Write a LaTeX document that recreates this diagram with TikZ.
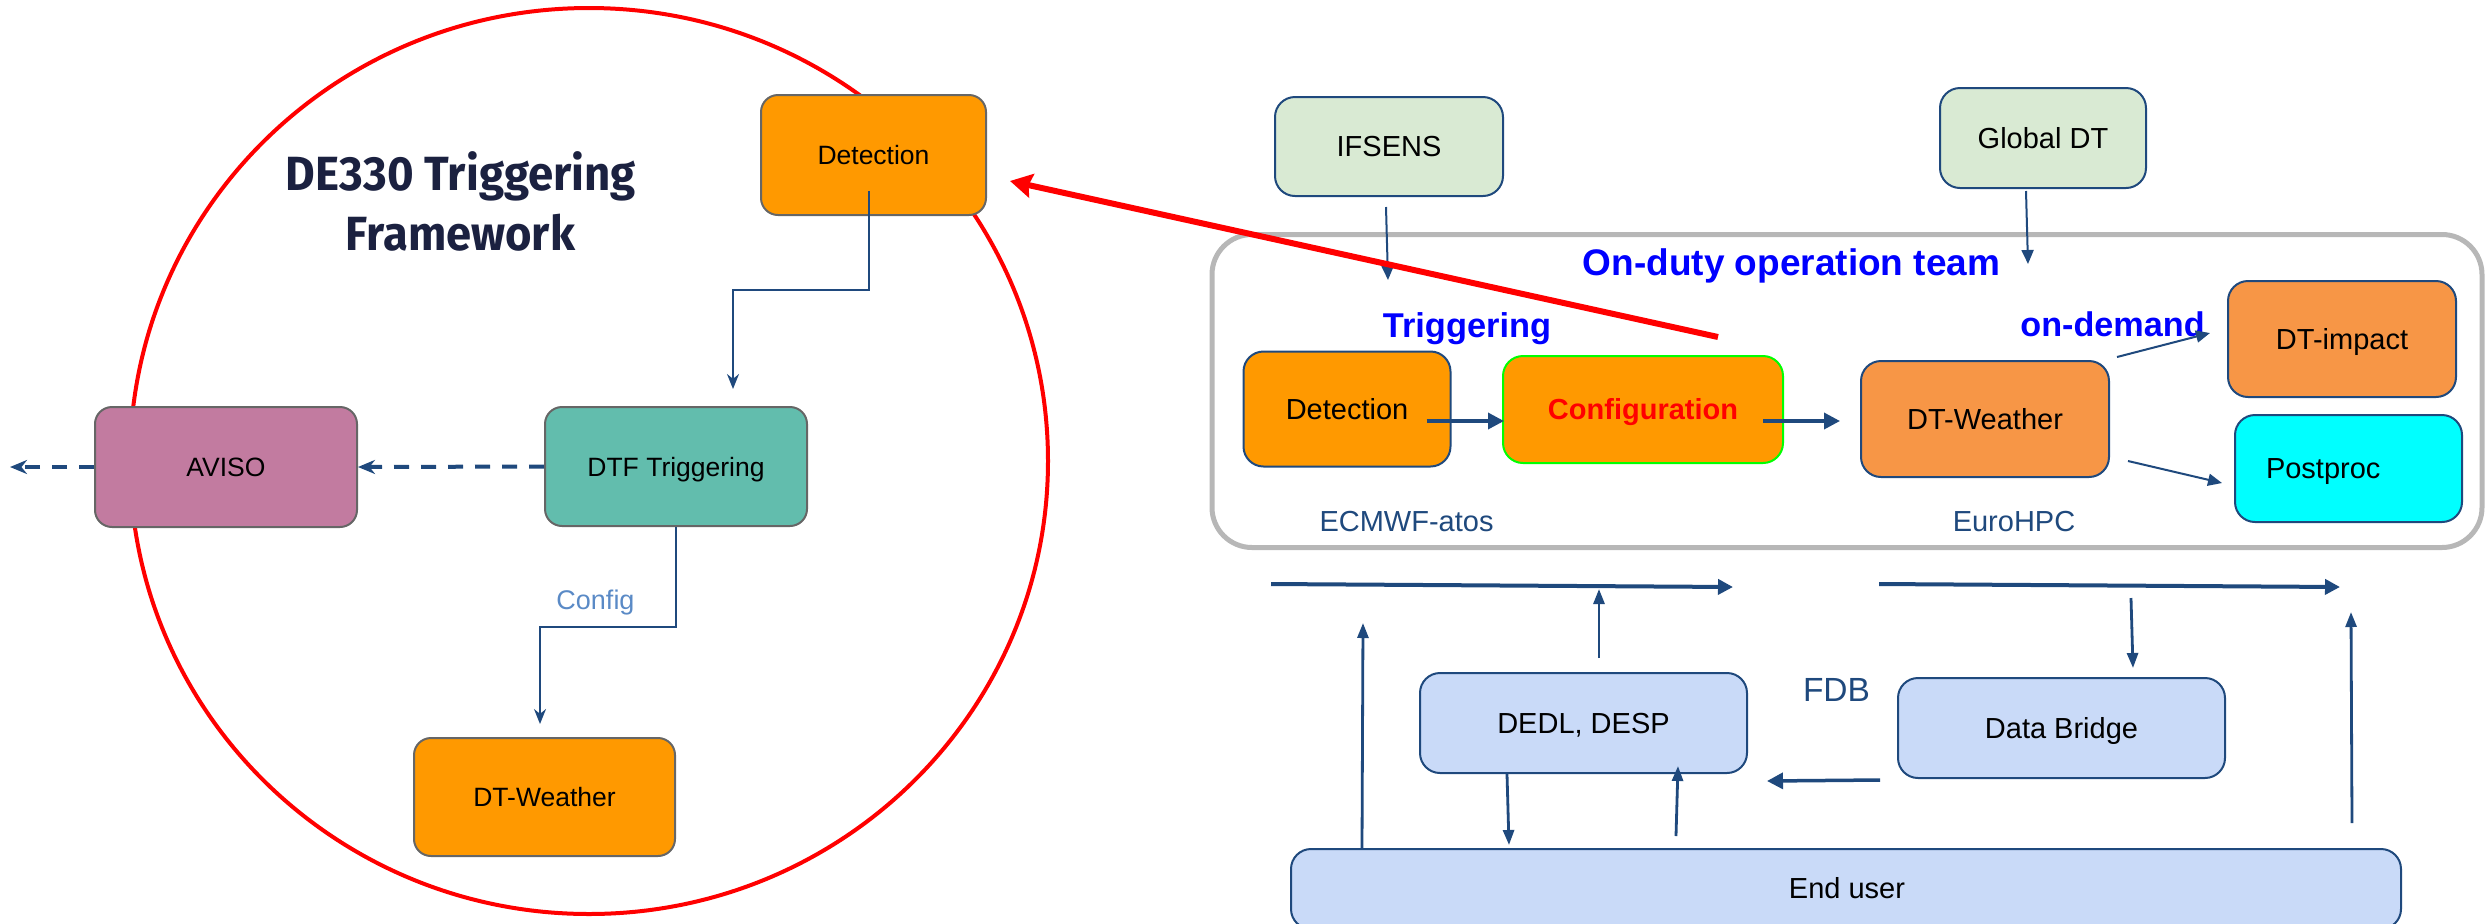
\documentclass[tikz,border=0pt]{standalone}
\usepackage{fontspec}
\setmainfont{Liberation Sans}
\newfontfamily\titlefont{Fira Sans}
\usetikzlibrary{arrows.meta,calc}
\definecolor{orangeA}{HTML}{FF9900}
\definecolor{orangeB}{HTML}{F79646}
\definecolor{avisoc}{HTML}{C27BA0}
\definecolor{dtfc}{HTML}{62BDAD}
\definecolor{greenL}{HTML}{D9EAD3}
\definecolor{blueL}{HTML}{C9DAF8}
\definecolor{cyanC}{HTML}{00FFFF}
\definecolor{navy}{HTML}{1F497D}
\definecolor{lgray}{HTML}{666666}
\definecolor{contc}{HTML}{B7B7B7}
\definecolor{titlec}{HTML}{1B2140}
\definecolor{configc}{HTML}{5A8AC6}
\definecolor{bluetxt}{HTML}{0000FF}
\definecolor{greenB}{HTML}{00FF00}
\def\pu{0.5pt}
\tikzset{
  lbox/.style={draw=lgray, line width=1pt, rounded corners=8.5pt, inner sep=0pt, align=center,
    text height=9.5pt, text depth=0pt, font=\fontsize{13.25}{15}\selectfont},
  rbox/.style={draw=navy, line width=1pt, rounded corners=10pt, inner sep=0pt, align=center,
    text height=10.4pt, text depth=0pt, font=\fontsize{14.5}{17}\selectfont},
  thinarr/.style={draw=navy, line width=1pt, -{Stealth[length=7.5pt,width=6pt]}},
  dasharr/.style={draw=navy, line width=2pt, dash pattern=on 7.5pt off 6pt, -{Stealth[length=8.5pt,width=7pt]}},
  thickarr/.style={draw=navy, line width=1.75pt, -{Triangle[length=8pt,width=8pt]}},
  slimarr/.style={draw=navy, line width=1pt, -{Triangle[length=7pt,width=6pt]}},
  vertarr/.style={draw=navy, line width=1.4pt, -{Triangle[length=7.5pt,width=5.5pt]}},
  redarr/.style={draw=red, line width=3pt, -{Stealth[length=11pt,width=12pt,inset=1.5pt]}},
  lbl/.style={inner sep=0pt, anchor=base},
}
\begin{document}
\begin{tikzpicture}[x=0.5pt,y=-0.5pt]
\useasboundingbox (0,0) rectangle (2486,923);

% ---------- left part ----------
\draw[red, line width=2pt] (589,461) ellipse [x radius=459, y radius=453];

\node[lbl, font=\titlefont\bfseries\fontsize{24}{28}\selectfont, text=titlec] (title1) at (461,190)
  {\resizebox{175pt}{\height}{DE330 Triggering}};
\node[lbl, font=\titlefont\bfseries\fontsize{24}{28}\selectfont, text=titlec] (title2) at (460.5,250)
  {\resizebox{114.5pt}{\height}{Framework}};

\node[lbox, fill=orangeA, minimum width=225*\pu, minimum height=120*\pu] (detL) at (873.5,155) {Detection};
\node[lbox, fill=avisoc, minimum width=262*\pu, minimum height=120*\pu] (aviso) at (226,467) {AVISO};
\node[lbox, fill=dtfc, minimum width=262*\pu, minimum height=119*\pu] (dtf) at (676,466.5) {DTF Triggering};
\node[lbox, fill=orangeA, minimum width=261*\pu, minimum height=118*\pu] (dtwL) at (544.5,797) {DT-Weather};

\draw[thinarr] ($(detL.center)+(-4.5,36)$) -- ++(0,99) -| ($(dtf.north)+(57,-17)$);
\draw[thinarr] (dtf.south) -- ++(0,100) -| ($(dtwL.north)+(-4.5,-13)$);
\node[lbl, text=configc, font=\fontsize{13.5}{16}\selectfont] (cfglbl) at (595.5,609) {Config};

\coordinate (avisoOut) at (10,467);
\draw[dasharr] (dtf.west) -- (aviso.east);
\draw[dasharr] (aviso.west) -- (avisoOut);

% ---------- right part ----------
\node[draw=contc, line width=2.5pt, rounded corners=20pt, minimum width=1270*\pu, minimum height=313*\pu, inner sep=0pt]
  (team) at (1847,391) {};

\node[rbox, fill=greenL, minimum width=228*\pu, minimum height=99*\pu] (ifsens) at (1389,146.5) {IFSENS};
\node[rbox, fill=greenL, minimum width=206*\pu, minimum height=100*\pu] (global) at (2043,138) {Global DT};

\node[lbl, text=bluetxt, font=\bfseries\fontsize{18.5}{22}\selectfont] (teamlbl) at (1791.5,275) {On-duty operation team};
\node[lbl, text=bluetxt, font=\bfseries\fontsize{17.2}{20}\selectfont] (trig) at (1467,337) {Triggering};
\node[lbl, text=bluetxt, font=\bfseries\fontsize{17.1}{20}\selectfont] (ondem) at (2112.5,336) {on-demand};

\node[rbox, fill=orangeA, minimum width=207*\pu, minimum height=115*\pu] (detR) at (1347,409) {Detection};
\node[rbox, draw=greenB, fill=orangeA, minimum width=280*\pu, minimum height=107*\pu, text=red,
  font=\bfseries\fontsize{14.5}{17}\selectfont] (config) at (1643,409.5) {Configuration};
\node[rbox, fill=orangeB, minimum width=248*\pu, minimum height=116*\pu] (dtwR) at (1985,419) {DT-Weather};
\node[rbox, fill=orangeB, minimum width=228*\pu, minimum height=116*\pu] (dtimp) at (2342,339) {DT-impact};
\node[rbox, fill=cyanC, minimum width=227*\pu, minimum height=107*\pu, inner xsep=31*\pu,
  text width=165*\pu, align=left] (post) at (2348.5,468.5) {Postproc};

\node[lbl, text=navy, font=\fontsize{14.5}{17}\selectfont] (ecmwf) at (1406.5,531) {ECMWF-atos};
\node[lbl, text=navy, font=\fontsize{14.5}{17}\selectfont] (eurohpc) at (2014,531) {EuroHPC};

\coordinate (ifsIn) at (1388,280);
\coordinate (globIn) at (2028,264);
\draw[slimarr] ($(ifsens.south)+(-3,10)$) -- (ifsIn);
\draw[slimarr] ($(global.south)+(-17,2)$) -- (globIn);

\draw[thickarr] ($(detR.east)+(-25,12)$) -- ($(config.west)+(2,11.5)$);
\draw[thickarr] ($(config.east)+(-21,11.5)$) -- ($(dtwR.west)+(-20,2)$);
\draw[slimarr] ($(dtwR.east)+(7,-62)$) -- ($(dtimp.west)+(-17,-6)$);
\draw[slimarr] ($(dtwR.east)+(18,42)$) -- ($(post.west)+(-12,14.5)$);

% red arrow
\coordinate (redStart) at (1718,337);
\coordinate (redEnd) at (1010,181);
\draw[redarr] (redStart) -- (redEnd);

% ---------- bottom part ----------
\node[rbox, fill=blueL, minimum width=327*\pu, minimum height=100*\pu] (dedl) at (1583.5,723) {DEDL, DESP};
\node[rbox, fill=blueL, minimum width=327*\pu, minimum height=100*\pu] (dbr) at (2061.5,728) {Data Bridge};
\node[rbox, fill=blueL, minimum width=1110*\pu, minimum height=80*\pu, anchor=north] (enduser) at (1846,848) {};
\node[lbl, font=\fontsize{14.5}{17}\selectfont] (endlbl) at (1847,898) {End user};
\node[lbl, text=navy, font=\fontsize{16.75}{20}\selectfont] (fdb) at (1836.5,701) {FDB};

\coordinate (rowAs) at (1271,584);
\coordinate (rowAe) at (1733,587);
\coordinate (rowBs) at (1879,584);
\coordinate (rowBe) at (2340,587);
\draw[draw=navy, line width=2pt, -{Triangle[length=7.5pt,width=7.5pt]}] (rowAs) -- (rowAe);
\draw[draw=navy, line width=2pt, -{Triangle[length=7.5pt,width=7.5pt]}] (rowBs) -- (rowBe);

\coordinate (dedlUp) at (1599,589);
\draw[vertarr] ($(dedl.north)+(15.5,-14)$) -- (dedlUp);
\coordinate (leftUp) at (1363,623);
\draw[vertarr] ($(enduser.north west)+(72,0)$) -- (leftUp);
\coordinate (rightUp) at (2351,612);
\draw[vertarr] ($(enduser.north east)+(-50,-25)$) -- (rightUp);
\coordinate (dbDownS) at (2131,598);
\draw[vertarr] (dbDownS) -- ($(dbr.north)+(71.5,-9)$);
\draw[thickarr] ($(dbr.south west)+(-17,1)$) -- ($(dedl.south east)+(19,7)$);
\draw[vertarr] ($(dedl.south)+(-76.5,0)$) -- ($(enduser.north west)+(219,-3)$);
\draw[vertarr] ($(enduser.north west)+(386,-12)$) -- ($(dedl.south)+(94.5,-8)$);
\end{tikzpicture}
\end{document}
